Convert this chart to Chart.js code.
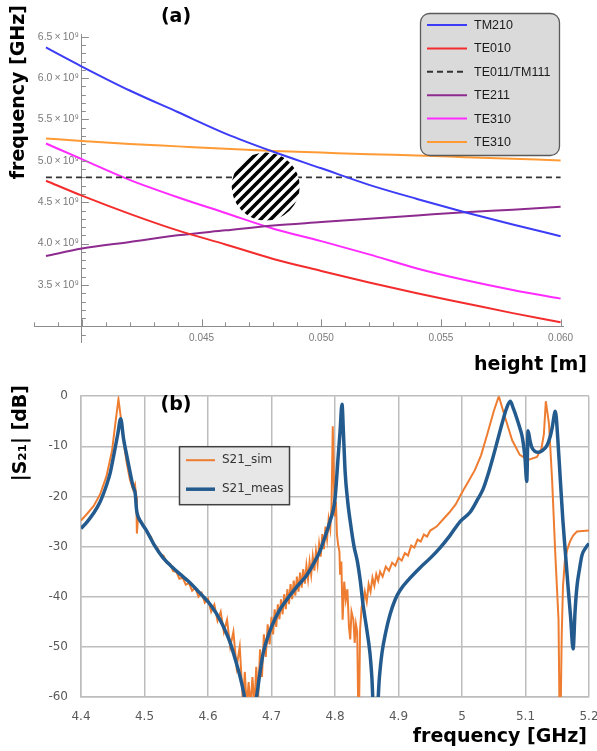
<!DOCTYPE html>
<html><head><meta charset="utf-8">
<script src="https://cdn.jsdelivr.net/npm/chart.js@4/dist/chart.umd.min.js"></script>
<style>
html,body{margin:0;padding:0;background:#fff;overflow:hidden;width:597px;height:751px;position:relative;}
#ca{position:absolute;left:0;top:0;}
#cb{position:absolute;left:0;top:376px;}
</style></head><body>
<canvas id="ca" width="597" height="376"></canvas>
<canvas id="cb" width="620" height="375"></canvas>
<script>
// ---------- Panel (a): mode frequencies vs cavity height ----------
const heightM   = [0.0385, 0.040, 0.042, 0.044, 0.046, 0.048, 0.050, 0.052, 0.054, 0.056, 0.058, 0.060];
const tm210     = [6.37, 6.14, 5.85, 5.59, 5.33, 5.11, 4.91, 4.71, 4.54, 4.38, 4.23, 4.09];
const te010     = [4.76, 4.58, 4.36, 4.16, 3.99, 3.815, 3.67, 3.53, 3.40, 3.28, 3.16, 3.05];
const te011tm111= [4.80, 4.80, 4.80, 4.80, 4.80, 4.80, 4.80, 4.80, 4.80, 4.80, 4.80, 4.80];
const te211     = [3.85, 3.94, 4.02, 4.10, 4.16, 4.22, 4.26, 4.30, 4.34, 4.38, 4.41, 4.445];
const te310a    = [5.21, 5.02, 4.77, 4.56, 4.37, 4.18, 4.03, 3.87, 3.70, 3.56, 3.44, 3.335];
const te310b    = [5.27, 5.24, 5.205, 5.175, 5.145, 5.12, 5.10, 5.08, 5.065, 5.045, 5.025, 5.005];
const modeNames = ['TM210', 'TE010', 'TE011/TM111', 'TE211', 'TE310', 'TE310'];
const hatchCenter = [0.04768, 4.69];
const xTickValsA = [0.045, 0.050, 0.055, 0.060];
const xTickLabelsA = ['0.045', '0.050', '0.055', '0.060'];
const yTickValsA = [3.5, 4.0, 4.5, 5.0, 5.5, 6.0, 6.5];
const yTickLabelsA = ['3.5\u2009\u00d7\u200910\u2079', '4.0\u2009\u00d7\u200910\u2079', '4.5\u2009\u00d7\u200910\u2079', '5.0\u2009\u00d7\u200910\u2079',
                      '5.5\u2009\u00d7\u200910\u2079', '6.0\u2009\u00d7\u200910\u2079', '6.5\u2009\u00d7\u200910\u2079'];

// ---------- Panel (b): |S21| simulated vs measured ----------
const simFreq = [4.400,4.410,4.420,4.430,4.440,4.449,4.454,4.459,4.464,4.468,4.472,4.477,4.482,4.485,4.487,4.488,4.490,4.495,4.500,4.505,
4.510,4.515,4.520,4.525,4.530,4.535,4.540,4.545,4.550,4.555,4.560,4.565,4.570,4.575,4.580,4.585,4.590,4.595,4.600,4.605,
4.610,4.615,4.620,4.625,4.630,4.635,4.640,4.645,4.650,4.655,4.658,4.661,4.664,4.667,4.670,4.673,4.676,4.679,4.682,4.685,
4.688,4.691,4.694,4.697,4.700,4.7025,4.705,4.7075,4.710,4.7125,4.715,4.7175,4.720,4.7225,4.725,4.7275,4.730,4.7325,4.735,4.7375,
4.740,4.7425,4.745,4.7475,4.750,4.7525,4.755,4.7575,4.760,4.7625,4.765,4.7675,4.770,4.7725,4.775,4.7775,4.780,4.7825,4.785,4.7875,
4.790,4.7925,4.7945,4.7965,4.7985,4.800,4.8015,4.803,4.805,4.807,4.808,4.810,4.812,4.8145,4.817,4.8195,4.822,4.824,4.826,4.829,
4.831,4.833,4.835,4.8365,4.838,4.8395,4.842,4.844,4.847,4.850,4.853,4.856,4.859,4.862,4.865,4.868,4.871,4.875,4.880,4.885,
4.890,4.895,4.900,4.905,4.910,4.915,4.920,4.925,4.930,4.935,4.940,4.945,4.950,4.960,4.970,4.980,4.990,5.000,5.010,5.020,
5.030,5.040,5.050,5.058,5.068,5.079,5.091,5.104,5.118,5.125,5.129,5.132,5.137,5.142,5.147,5.152,5.1535,5.1555,5.157,5.159,
5.162,5.166,5.170,5.175,5.181,5.190,5.200];
const simDb = [-24.8,-23.4,-21.9,-19.6,-16.0,-10.8,-5.5,-0.6,-5.5,-10.0,-13.3,-16.6,-18.6,-17.6,-20.0,-27.4,-23.8,-25.2,-26.0,-27.4,
-28.0,-29.6,-30.2,-31.5,-31.8,-33.3,-33.4,-34.9,-35.0,-36.4,-36.2,-37.6,-37.3,-38.8,-38.2,-40.0,-39.2,-41.2,-40.4,-43.0,
-41.6,-44.8,-43.0,-47.0,-44.6,-50.0,-47.0,-54.0,-50.0,-61.0,-55.0,-62.0,-57.0,-62.0,-56.0,-62.0,-54.0,-60.0,-50.5,-56.0,
-47.5,-52.0,-45.5,-49.5,-44.0,-47.5,-42.5,-46.0,-41.5,-44.5,-40.5,-43.5,-39.5,-42.5,-38.5,-41.5,-37.5,-40.5,-36.8,-39.8,
-36.0,-39.0,-35.2,-38.2,-34.5,-37.4,-33.8,-36.5,-33.0,-35.6,-32.0,-34.8,-31.0,-33.5,-29.5,-32.0,-27.5,-30.5,-26.0,-28.5,
-24.5,-26.5,-22.0,-6.0,-18.0,-24.0,-21.0,-27.5,-29.7,-31.0,-35.6,-33.0,-44.6,-37.0,-40.6,-38.5,-46.0,-48.5,-43.0,-44.6,
-49.2,-45.5,-47.0,-62.0,-62.0,-46.5,-42.0,-41.4,-39.0,-41.0,-37.5,-39.0,-36.2,-37.8,-35.5,-36.8,-35.0,-36.0,-34.0,-34.8,
-33.2,-33.8,-32.2,-32.8,-31.3,-31.8,-29.8,-30.2,-28.6,-29.0,-27.6,-28.0,-26.8,-26.0,-24.6,-23.2,-21.6,-19.2,-17.0,-14.8,
-11.8,-7.5,-3.0,0.0,-4.3,-8.8,-11.7,-12.7,-12.1,-10.5,-7.5,-1.0,-5.5,-17.0,-31.7,-44.6,-62.0,-62.0,-48.0,-38.0,
-32.8,-30.5,-29.0,-27.8,-27.0,-26.9,-26.8];
const measFreq = [4.400,4.410,4.420,4.430,4.440,4.446,4.452,4.458,4.4625,4.467,4.4725,4.477,4.482,4.4855,4.487,4.488,4.495,4.504,4.515,4.529,
4.543,4.556,4.570,4.583,4.595,4.605,4.619,4.628,4.635,4.643,4.650,4.656,4.662,4.672,4.677,4.682,4.687,4.693,4.700,4.712,
4.724,4.740,4.756,4.768,4.776,4.783,4.792,4.800,4.805,4.808,4.811,4.8135,4.816,4.820,4.824,4.830,4.835,4.840,4.844,4.850,
4.855,4.858,4.861,4.866,4.870,4.874,4.880,4.887,4.895,4.902,4.918,4.934,4.950,4.965,4.981,4.997,5.013,5.025,5.033,5.042,
5.049,5.056,5.063,5.070,5.076,5.081,5.086,5.091,5.095,5.099,5.102,5.104,5.107,5.110,5.115,5.120,5.127,5.134,5.139,5.142,
5.147,5.151,5.155,5.159,5.163,5.167,5.171,5.175,5.178,5.181,5.185,5.189,5.195,5.200];
const measDb = [-26.4,-25.0,-23.3,-21.1,-17.8,-15.3,-11.5,-7.5,-4.5,-8.5,-12.1,-15.0,-18.0,-19.5,-22.0,-23.1,-25.2,-27.0,-29.6,-32.2,
-34.0,-35.5,-37.0,-38.7,-40.3,-41.8,-44.6,-47.0,-49.2,-52.5,-55.7,-59.0,-63.0,-63.0,-59.5,-55.0,-51.2,-48.5,-46.0,-42.8,
-40.6,-38.0,-35.6,-33.0,-31.0,-28.5,-25.0,-20.5,-12.0,-7.0,-1.6,-8.0,-15.2,-21.0,-25.0,-30.0,-32.8,-37.0,-41.4,-46.5,
-51.2,-56.0,-63.0,-63.0,-56.0,-51.2,-47.0,-43.4,-40.5,-38.8,-36.3,-34.2,-32.3,-30.3,-27.8,-25.0,-23.1,-20.5,-18.6,-15.2,
-12.1,-8.8,-5.5,-2.5,-1.0,-2.5,-4.3,-6.3,-8.2,-12.0,-17.0,-6.9,-8.8,-10.2,-11.0,-11.2,-10.8,-9.8,-8.0,-6.3,
-3.0,-8.8,-17.0,-25.0,-31.5,-38.0,-44.0,-50.4,-43.0,-38.0,-34.5,-31.7,-30.2,-29.4];
const xTickValsB = [4.4, 4.5, 4.6, 4.7, 4.8, 4.9, 5.0, 5.1, 5.2];
const xTickLabelsB = ['4.4', '4.5', '4.6', '4.7', '4.8', '4.9', '5', '5.1', '5.2'];
const yTickValsB = [-60, -50, -40, -30, -20, -10, 0];
const yTickLabelsB = ['-60', '-50', '-40', '-30', '-20', '-10', '0'];
const seriesNamesB = ['S21_sim', 'S21_meas'];

// ---------- helpers ----------
function roundedRect(ctx, x, y, w, h, r) {
  ctx.beginPath();
  ctx.moveTo(x + r, y); ctx.lineTo(x + w - r, y); ctx.arcTo(x + w, y, x + w, y + r, r);
  ctx.lineTo(x + w, y + h - r); ctx.arcTo(x + w, y + h, x + w - r, y + h, r);
  ctx.lineTo(x + r, y + h); ctx.arcTo(x, y + h, x, y + h - r, r);
  ctx.lineTo(x, y + r); ctx.arcTo(x, y, x + r, y, r); ctx.closePath();
}
const BOLD = 'bold 19px "DejaVu Sans"';

// hatch pattern for the circle
const ctxA = document.getElementById('ca').getContext('2d');
const hc = document.createElement('canvas'); hc.width = 10; hc.height = 10;
const hg = hc.getContext('2d');
hg.fillStyle = '#fff'; hg.fillRect(0, 0, 10, 10);
hg.strokeStyle = '#000'; hg.lineWidth = 3.6;
hg.beginPath(); hg.moveTo(-5, 5); hg.lineTo(5, -5); hg.moveTo(-2, 12); hg.lineTo(12, -2); hg.moveTo(5, 15); hg.lineTo(15, 5); hg.stroke();
const hatch = ctxA.createPattern(hc, 'repeat');

const lineDs = (label, ys, color, extra) => Object.assign({
  type: 'line', label, data: heightM.map((h, i) => ({x: h, y: ys[i]})),
  borderColor: color, backgroundColor: color, borderWidth: 2, pointRadius: 0,
  cubicInterpolationMode: 'monotone', fill: false
}, extra || {});

const decorA = {
  id: 'decorA',
  afterDraw(chart) {
    const {ctx, chartArea: ca, scales: {x, y}} = chart;
    ctx.save();
    const x0 = x.getPixelForValue(0.040), y0 = y.getPixelForValue(3.0);
    ctx.strokeStyle = '#8c8c8c'; ctx.lineWidth = 1;
    for (let k = 29; k <= 65; k++) {
      const py = Math.round(y.getPixelForValue(k / 10)) + 0.5;
      ctx.beginPath(); ctx.moveTo(x0, py); ctx.lineTo(x0 + (k % 5 === 0 ? 7 : 4), py); ctx.stroke();
    }
    for (let k = 38; k <= 60; k++) {
      const px = Math.round(x.getPixelForValue(k / 1000)) + 0.5;
      ctx.beginPath(); ctx.moveTo(px, y0); ctx.lineTo(px, y0 - (k % 5 === 0 ? 7 : 4)); ctx.stroke();
    }
    // legend
    const lw = 139, lh = 142, lx = ca.right - 4 - lw, ly = 13;
    roundedRect(ctx, lx + 0.5, ly + 0.5, lw, lh, 9);
    ctx.fillStyle = '#dadada'; ctx.fill();
    ctx.strokeStyle = '#5a5a5a'; ctx.lineWidth = 1.3; ctx.stroke();
    const lines = chart.data.datasets.filter(d => d.type === 'line');
    lines.forEach((d, i) => {
      const ry = ly + 12 + i * 23.4;
      ctx.beginPath(); ctx.setLineDash(d.borderDash || []);
      ctx.strokeStyle = d.borderColor; ctx.lineWidth = 2;
      ctx.moveTo(lx + 7, ry); ctx.lineTo(lx + 47, ry); ctx.stroke(); ctx.setLineDash([]);
      ctx.fillStyle = '#1a1a1a'; ctx.font = '12.5px "Liberation Sans"';
      ctx.textAlign = 'left'; ctx.textBaseline = 'middle';
      ctx.fillText(d.label, lx + 54, ry + 0.5);
    });
    // titles
    ctx.fillStyle = '#000'; ctx.font = BOLD;
    ctx.textAlign = 'center'; ctx.textBaseline = 'middle';
    ctx.fillText('(a)', 176, 17);
    ctx.textAlign = 'right'; ctx.textBaseline = 'alphabetic';
    ctx.fillText('height [m]', 587, 369.5);
    ctx.translate(24, 5); ctx.rotate(-Math.PI / 2);
    ctx.fillText('frequency [GHz]', 0, 0);
    ctx.restore();
  }
};

new Chart(ctxA, {
  type: 'line',
  data: { datasets: [
    {type: 'bubble', label: 'hatch', data: [{x: hatchCenter[0], y: hatchCenter[1]}], radius: 34, hoverRadius: 0,
     backgroundColor: hatch, borderWidth: 0},
    lineDs(modeNames[0], tm210, '#3c3cf6'),
    lineDs(modeNames[1], te010, '#f32d2d'),
    lineDs(modeNames[2], te011tm111, '#333333', {borderDash: [6, 4], borderWidth: 1.8}),
    lineDs(modeNames[3], te211, '#8e2b8e'),
    lineDs(modeNames[4], te310a, '#ff2bff'),
    lineDs(modeNames[5], te310b, '#ff9a35')
  ]},
  options: {
    responsive: false, animation: false, devicePixelRatio: 1, events: [],
    layout: {padding: {left: 33, right: 19, top: 12, bottom: 26}},
    plugins: {legend: {display: false}, tooltip: {enabled: false}},
    scales: {
      x: {type: 'linear', min: 0.038, max: 0.0601, position: {y: 3.0},
          afterBuildTicks: s => { s.ticks = xTickValsA.map(v => ({value: v})); },
          ticks: {callback: (v, i) => xTickLabelsA[i], color: '#7a7a7a', font: {family: 'Liberation Sans', size: 10},
                  padding: 6, maxRotation: 0, autoSkip: false},
          grid: {display: false, drawTicks: false}, border: {display: true, color: '#8c8c8c', width: 1}},
      y: {type: 'linear', min: 2.811, max: 6.533, position: {x: 0.040},
          afterBuildTicks: s => { s.ticks = yTickValsA.map(v => ({value: v})); },
          ticks: {callback: (v, i) => yTickLabelsA[i] + ' ', color: '#7a7a7a', font: {family: 'Liberation Sans', size: 10.5},
                  padding: 0, autoSkip: false},
          grid: {display: false, drawTicks: false}, border: {display: true, color: '#8c8c8c', width: 1}}
    }
  },
  plugins: [decorA]
});

// ---------- chart (b) ----------
const decorB = {
  id: 'decorB',
  afterDraw(chart) {
    const {ctx, chartArea: ca} = chart;
    ctx.save();
    const bx = ca.left + 98, by = ca.top + 50, bw = 110, bh = 58;
    ctx.fillStyle = '#e7e7e7'; ctx.fillRect(bx, by, bw, bh);
    ctx.strokeStyle = '#404040'; ctx.lineWidth = 1.5; ctx.strokeRect(bx + 0.5, by + 0.5, bw, bh);
    seriesNamesB.forEach((name, i) => {
      const d = chart.data.datasets.find(ds => ds.label === name);
      const ry = by + 14 + i * 29;
      ctx.beginPath(); ctx.strokeStyle = d.borderColor; ctx.lineWidth = d.borderWidth;
      ctx.moveTo(bx + 7, ry); ctx.lineTo(bx + 36, ry); ctx.stroke();
      ctx.fillStyle = '#333'; ctx.font = '12px "DejaVu Sans"';
      ctx.textAlign = 'left'; ctx.textBaseline = 'middle';
      ctx.fillText(name, bx + 43, ry);
    });
    ctx.fillStyle = '#000'; ctx.font = BOLD;
    ctx.textAlign = 'center'; ctx.textBaseline = 'middle';
    ctx.fillText('(b)', 176, 29);
    ctx.textAlign = 'right'; ctx.textBaseline = 'alphabetic';
    ctx.fillText('frequency [GHz]', 587, 366);
    ctx.translate(26, 9); ctx.rotate(-Math.PI / 2);
    ctx.fillText('|S\u2082\u2081| [dB]', 0, 0);
    ctx.restore();
  }
};

new Chart(document.getElementById('cb').getContext('2d'), {
  type: 'line',
  data: { datasets: [
    {label: 'S21_meas', data: measFreq.map((f, i) => ({x: f, y: measDb[i]})), borderColor: '#245b8e',
     borderWidth: 3.5, pointRadius: 0, cubicInterpolationMode: 'monotone', fill: false, clip: 0},
    {label: 'S21_sim', data: simFreq.map((f, i) => ({x: f, y: simDb[i]})), borderColor: '#ee7d31',
     borderWidth: 2, pointRadius: 0, tension: 0, fill: false, clip: 0}
  ]},
  options: {
    responsive: false, animation: false, devicePixelRatio: 1, events: [],
    layout: {padding: {left: 36, right: 31, top: 14, bottom: 14}},
    plugins: {legend: {display: false}, tooltip: {enabled: false}},
    scales: {
      x: {type: 'linear', min: 4.4, max: 5.2,
          afterBuildTicks: s => { s.ticks = xTickValsB.map(v => ({value: v})); },
          afterFit: s => { s.height = 40; },
          ticks: {callback: (v, i) => xTickLabelsB[i], color: '#595959', font: {family: 'DejaVu Sans', size: 12},
                  padding: 13, maxRotation: 0, autoSkip: false},
          grid: {color: '#bdbdbd', lineWidth: 1.5, drawTicks: false}, border: {color: '#bdbdbd', width: 1.5}},
      y: {type: 'linear', min: -60, max: 0,
          afterBuildTicks: s => { s.ticks = yTickValsB.map(v => ({value: v})); },
          afterFit: s => { s.width = 45; },
          ticks: {callback: (v, i) => yTickLabelsB[i], color: '#595959', font: {family: 'DejaVu Sans', size: 12},
                  padding: 13, autoSkip: false},
          grid: {color: '#bdbdbd', lineWidth: 1.5, drawTicks: false}, border: {color: '#bdbdbd', width: 1.5}}
    }
  },
  plugins: [decorB]
});
</script>
</body></html>
